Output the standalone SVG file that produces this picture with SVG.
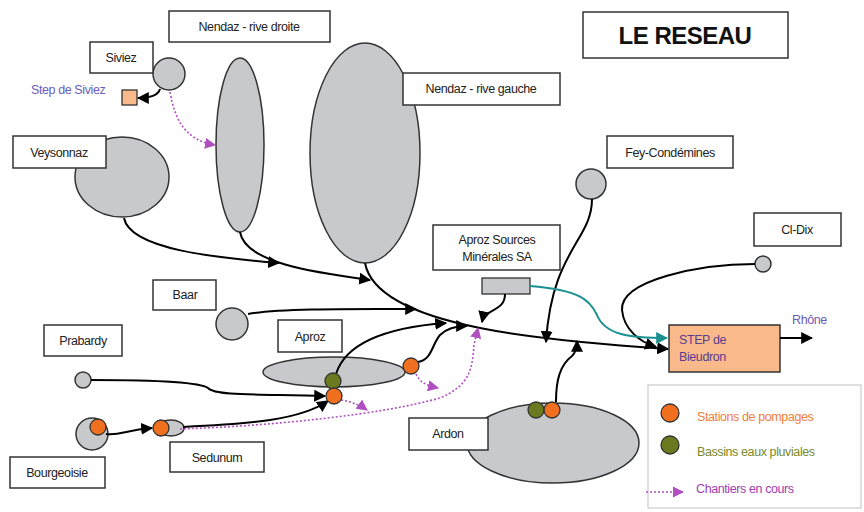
<svg xmlns="http://www.w3.org/2000/svg" width="864" height="512" viewBox="0 0 864 512">
<defs>
<marker id="ah" viewBox="0 0 10 10" refX="9" refY="5" markerWidth="6" markerHeight="6" orient="auto" markerUnits="strokeWidth"><path d="M0,0 L10,5 L0,10 z" fill="#000"/></marker>
<marker id="aht" viewBox="0 0 10 10" refX="9" refY="5" markerWidth="6" markerHeight="6" orient="auto" markerUnits="strokeWidth"><path d="M0,0 L10,5 L0,10 z" fill="#1a9090"/></marker>
<marker id="ahm" viewBox="0 0 10 10" refX="9" refY="5" markerWidth="7" markerHeight="7" orient="auto" markerUnits="strokeWidth"><path d="M0,0 L10,5 L0,10 z" fill="#b04fc0"/></marker>
<style>
.box{fill:#fff;stroke:#333;stroke-width:1.5}
.gr{fill:#c8c9ca;stroke:#333;stroke-width:1.5}
.or{fill:#f07020;stroke:#333;stroke-width:1.3}
.gn{fill:#6b7a1f;stroke:#333;stroke-width:1.3}
.t{font-family:"Liberation Sans",Arial,sans-serif;font-size:12.5px;letter-spacing:-0.4px;fill:#222;text-anchor:middle}
.lt{font-family:"Liberation Sans",Arial,sans-serif;font-size:12.5px;letter-spacing:-0.4px}
.ln{fill:none;stroke:#000;stroke-width:2;marker-end:url(#ah)}
.dm{fill:none;stroke:#b04fc0;stroke-width:1.6;stroke-dasharray:2,2;marker-end:url(#ahm)}
</style>
</defs>
<rect width="864" height="512" fill="#fff"/>

<g id="title"><rect class="box" x="583" y="12" width="205" height="46"/><text x="685" y="44" font-family="Liberation Sans,Arial,sans-serif" font-size="24" font-weight="bold" letter-spacing="-0.5" text-anchor="middle" fill="#111">LE RESEAU</text></g>

<g id="nendaz-droite"><ellipse class="gr" cx="240" cy="145" rx="24" ry="87"/><rect class="box" x="169" y="11" width="161" height="31"/><text class="t" x="249" y="31">Nendaz - rive droite</text></g>
<g id="nendaz-gauche"><ellipse class="gr" cx="365" cy="153" rx="55" ry="110"/><rect class="box" x="403" y="73" width="157" height="32"/><text class="t" x="481" y="93">Nendaz - rive gauche</text></g>
<g id="siviez"><circle class="gr" cx="169" cy="74" r="16"/><rect class="box" x="90" y="42" width="63" height="31"/><text class="t" x="121" y="62">Siviez</text></g>
<g id="step-siviez"><rect x="122" y="90" width="15" height="15" fill="#f9b98a" stroke="#333" stroke-width="1.3"/><text class="lt" x="31" y="94" fill="#6a5cb8">Step de Siviez</text></g>
<g id="veysonnaz"><ellipse class="gr" cx="122" cy="177" rx="47" ry="40"/><rect class="box" x="13" y="136" width="93" height="32"/><text class="t" x="59" y="157">Veysonnaz</text></g>
<g id="fey"><circle class="gr" cx="591" cy="184" r="15"/><rect class="box" x="607" y="136" width="126" height="32"/><text class="t" x="670" y="157">Fey-Condémines</text></g>
<g id="cldix"><circle class="gr" cx="763" cy="264" r="8"/><rect class="box" x="754" y="213" width="87" height="33"/><text class="t" x="797" y="234">Cl-Dix</text></g>
<g id="aproz-sources"><rect class="box" x="433" y="225" width="127" height="45"/><text class="t" x="497" y="244">Aproz Sources</text><text class="t" x="497" y="261">Minérales SA</text><rect x="482" y="278" width="48" height="16" fill="#c8c9ca" stroke="#333" stroke-width="1.3"/></g>
<g id="baar"><circle class="gr" cx="232" cy="324" r="16"/><rect class="box" x="153" y="280" width="63" height="30"/><text class="t" x="185" y="299">Baar</text></g>
<g id="aproz"><ellipse class="gr" cx="334" cy="372" rx="71" ry="15"/><rect class="box" x="278" y="320" width="64" height="32"/><text class="t" x="310" y="341">Aproz</text></g>
<g id="prabardy"><circle class="gr" cx="83" cy="380" r="8"/><rect class="box" x="44" y="325" width="78" height="31"/><text class="t" x="83" y="345">Prabardy</text></g>
<g id="bourgeoisie"><circle class="gr" cx="92" cy="434" r="16"/><rect class="box" x="10" y="457" width="95" height="31"/><text class="t" x="57" y="477">Bourgeoisie</text></g>
<g id="sedunum"><ellipse class="gr" cx="171" cy="428" rx="13" ry="8"/><rect class="box" x="170" y="442" width="94" height="30"/><text class="t" x="217" y="462">Sedunum</text></g>
<g id="ardon"><ellipse class="gr" cx="553" cy="443" rx="86" ry="40"/><rect class="box" x="409" y="418" width="79" height="32"/><text class="t" x="448" y="438">Ardon</text></g>
<g id="step-bieudron"><rect x="669" y="325" width="111" height="47" fill="#f9b98a" stroke="#333" stroke-width="1.5"/><text class="lt" x="679" y="344" fill="#5a3d8f">STEP de</text><text class="lt" x="679" y="361" fill="#5a3d8f">Bieudron</text></g>
<g id="rhone"><text class="lt" x="792" y="324" fill="#6a5cb8">Rhône</text></g>

<g id="connectors">
<path class="ln" d="M160,89 C158,96 150,98 138,98"/>
<path class="dm" d="M170,92 C175,120 185,140 215,145"/>
<path class="ln" d="M124,218 C130,250 220,258 279,263"/>
<path class="ln" d="M240,232 C245,262 310,272 370,280"/>
<path class="ln" d="M365,263 C372,300 430,318 480,328 S610,345 668,349"/>
<path class="ln" d="M592,199 C592,240 552,250 546,342"/>
<path class="ln" d="M755,264 C700,264 620,280 622,310 C624,330 640,342 656,347"/>
<path fill="none" stroke="#1a9090" stroke-width="2" marker-end="url(#aht)" d="M530,286 C580,290 590,300 597,315 C605,335 630,338 667,338"/>
<path class="ln" d="M505,294 C505,312 485,308 482,322"/>
<path class="ln" d="M248,314 C280,308 360,309 416,309"/>
<path class="ln" d="M91,380 C150,380 200,382 208,388 C215,396 260,394 325,396"/>
<path class="ln" d="M106,434 C120,436 125,430 152,428"/>
<path class="ln" d="M183,427 C250,424 300,420 328,401"/>
<path class="ln" d="M336,374 C345,345 380,328 446,323"/>
<path class="ln" d="M418,362 C432,360 432,344 440,335 C447,328 455,326 467,326"/>
<path class="ln" d="M556,402 C556,380 560,365 572,356 C576,352 577,348 577,341"/>
<path class="ln" d="M780,338 L812,338"/>
<path class="dm" d="M341,400 C352,402 360,405 367,410"/>
<path class="dm" d="M416,374 C420,382 425,385 438,388"/>
<path class="dm" d="M180,429 C270,426 380,415 440,398 C470,385 472,370 474,345 L478,328"/>
</g>

<g id="pumps">
<circle class="gn" cx="333" cy="381" r="8"/>
<circle class="or" cx="334" cy="396" r="8"/>
<circle class="or" cx="411" cy="366" r="8"/>
<circle class="or" cx="98" cy="427" r="8"/>
<circle class="or" cx="161" cy="428" r="8"/>
<circle class="gn" cx="536" cy="410" r="8"/>
<circle class="or" cx="552" cy="410" r="8"/>
</g>

<g id="legend">
<rect x="648" y="385" width="213" height="123" fill="#fff" stroke="#ccc" stroke-width="1.2"/>
<circle class="or" cx="670" cy="413" r="9"/>
<text class="lt" x="697" y="421" fill="#f0803a">Stations de pompages</text>
<circle class="gn" cx="670" cy="445" r="9"/>
<text class="lt" x="697" y="456" fill="#7a8a2a">Bassins eaux pluviales</text>
<path class="dm" d="M646,492 L683,492"/>
<text class="lt" x="696" y="493" fill="#a040b0">Chantiers en cours</text>
</g>
</svg>
